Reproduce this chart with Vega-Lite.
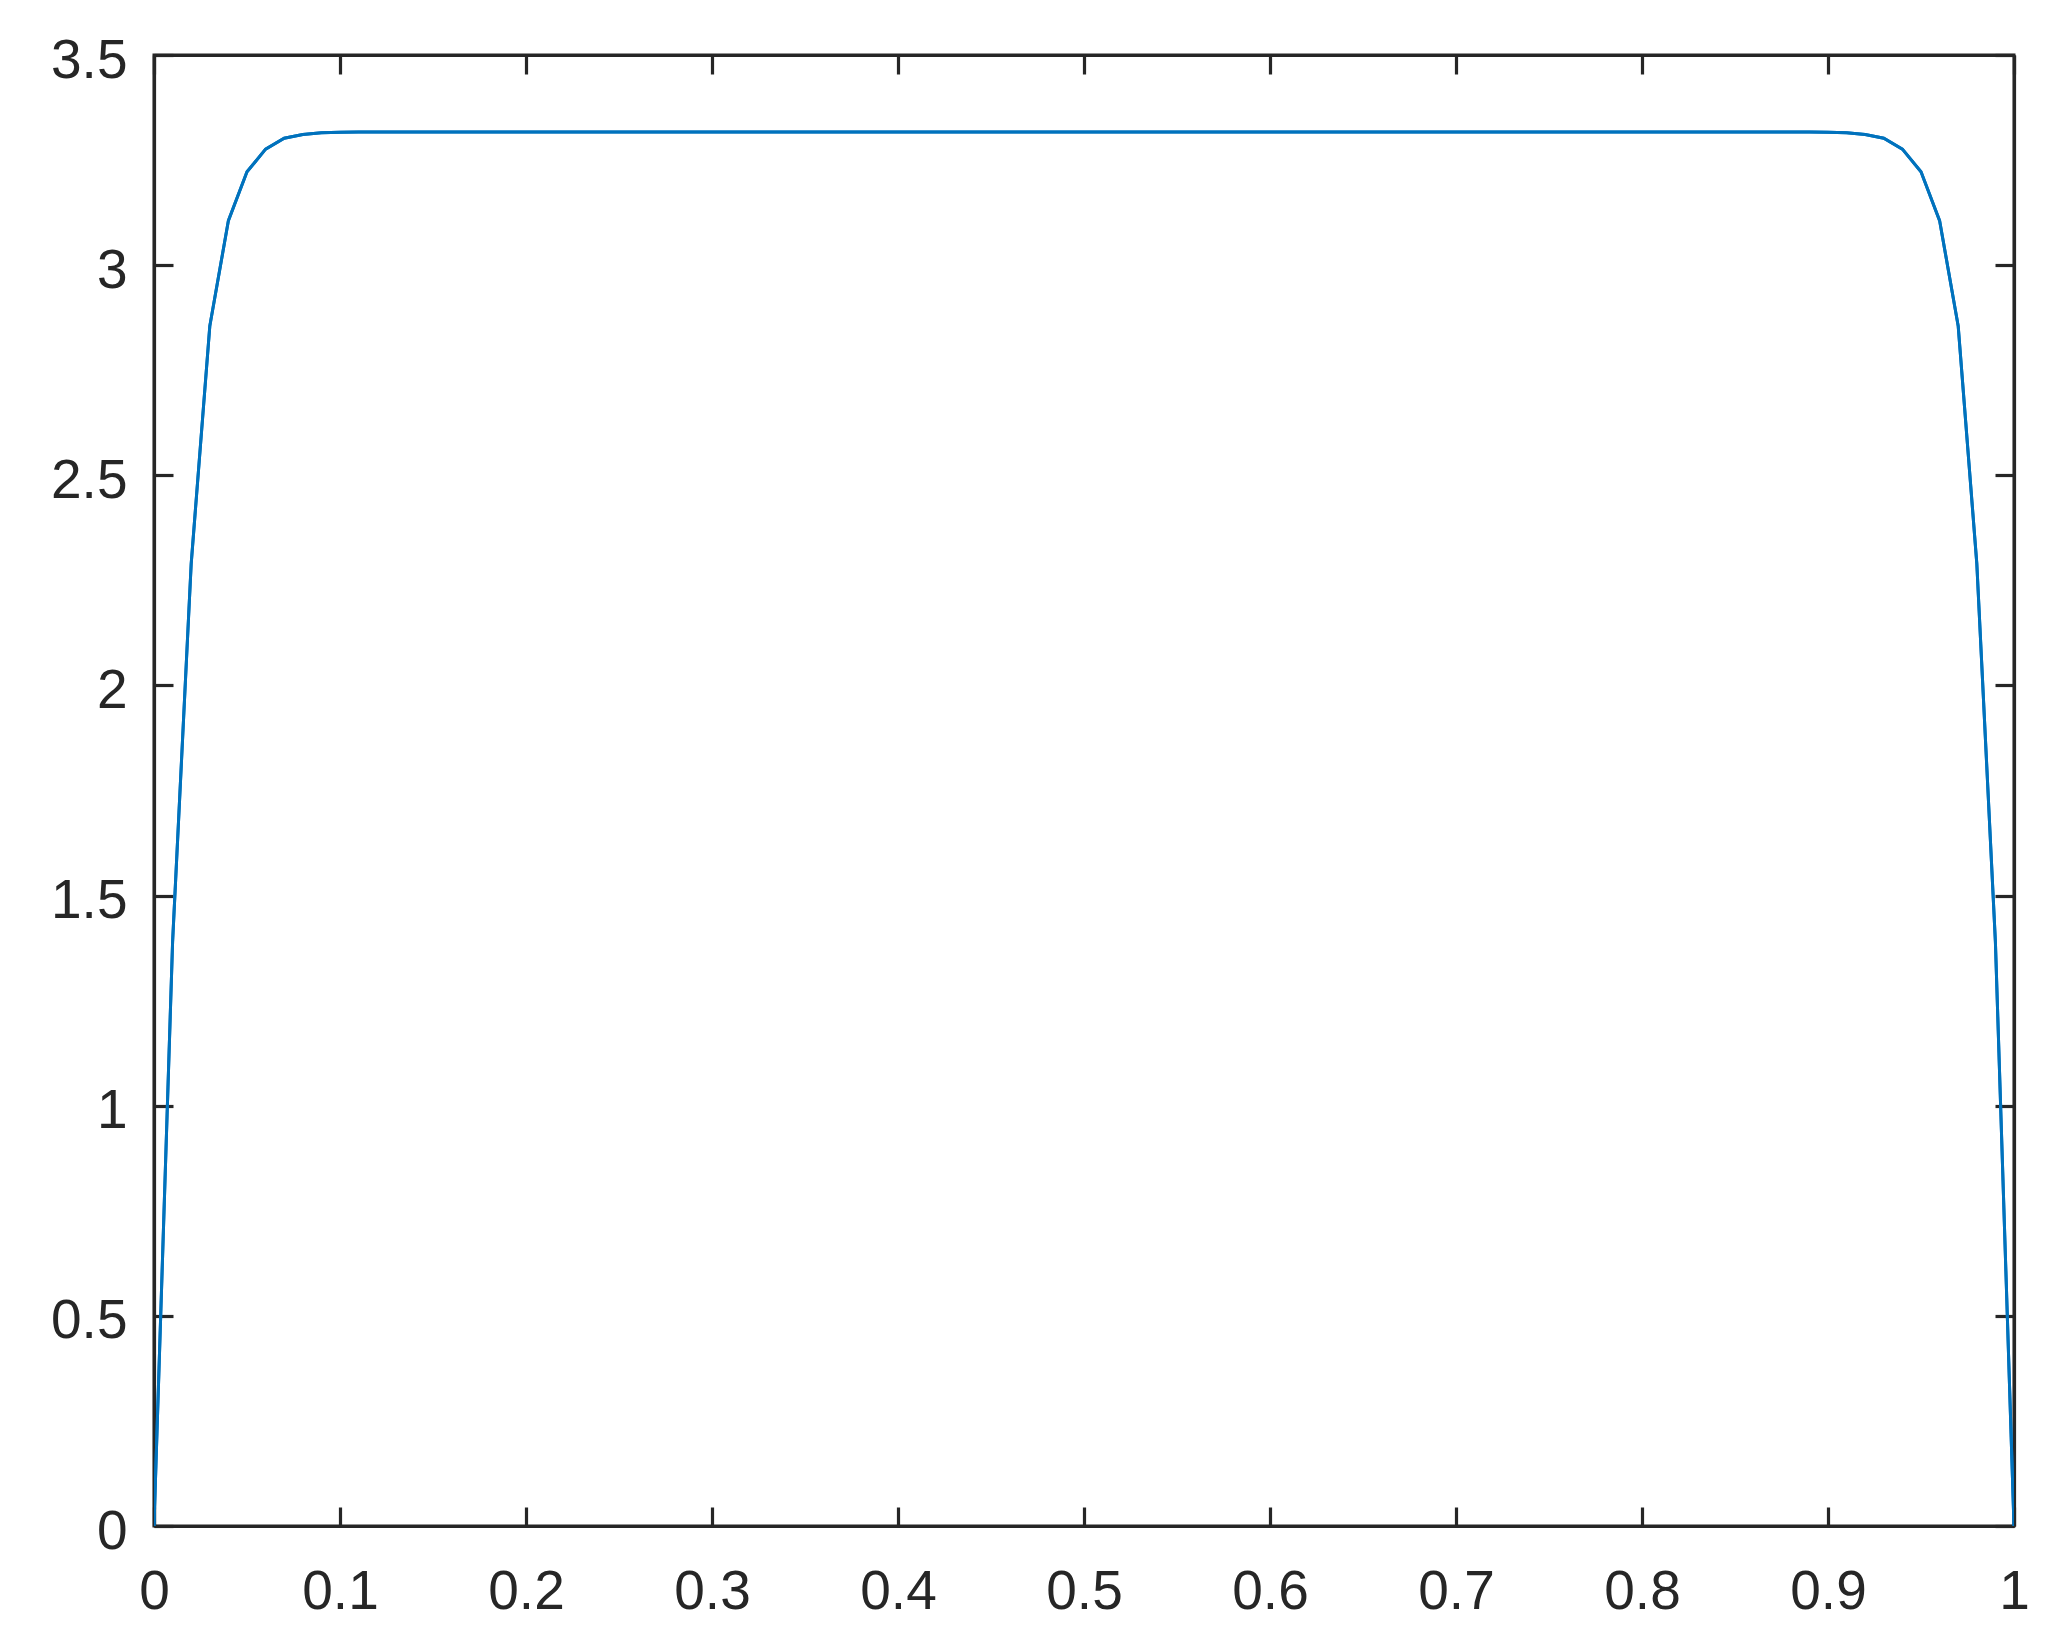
{
  "$schema": "https://vega.github.io/schema/vega-lite/v6.json",
  "width": 1860,
  "height": 1471,
  "autosize": {"type": "none"},
  "padding": {"left": 154, "top": 55, "right": 49, "bottom": 114},
  "background": "white",
  "config": {
    "view": {"stroke": "#262626", "strokeWidth": 3},
    "axis": {
      "grid": false,
      "domain": true,
      "domainColor": "#262626",
      "domainWidth": 3.2,
      "tickColor": "#262626",
      "tickWidth": 3.2,
      "tickSize": -19,
      "labelFont": "Liberation Sans",
      "labelFontSize": 55,
      "labelColor": "#262626",
      "labelFlush": false,
      "labelOverlap": false,
      "labelBound": false,
      "title": null
    }
  },
  "data": {"values": [
    {"x": 0, "y": 0},
    {"x": 0.01, "y": 1.39},
    {"x": 0.02, "y": 2.29},
    {"x": 0.03, "y": 2.855},
    {"x": 0.04, "y": 3.106},
    {"x": 0.05, "y": 3.222},
    {"x": 0.06, "y": 3.276},
    {"x": 0.07, "y": 3.302},
    {"x": 0.08, "y": 3.311},
    {"x": 0.09, "y": 3.315},
    {"x": 0.10, "y": 3.3163},
    {"x": 0.11, "y": 3.3166},
    {"x": 0.2, "y": 3.3166},
    {"x": 0.3, "y": 3.3166},
    {"x": 0.4, "y": 3.3166},
    {"x": 0.5, "y": 3.3166},
    {"x": 0.6, "y": 3.3166},
    {"x": 0.7, "y": 3.3166},
    {"x": 0.8, "y": 3.3166},
    {"x": 0.89, "y": 3.3166},
    {"x": 0.90, "y": 3.3163},
    {"x": 0.91, "y": 3.315},
    {"x": 0.92, "y": 3.311},
    {"x": 0.93, "y": 3.302},
    {"x": 0.94, "y": 3.276},
    {"x": 0.95, "y": 3.222},
    {"x": 0.96, "y": 3.106},
    {"x": 0.97, "y": 2.855},
    {"x": 0.98, "y": 2.29},
    {"x": 0.99, "y": 1.39},
    {"x": 1, "y": 0}
  ]},
  "resolve": {"axis": {"x": "independent", "y": "independent"}},
  "layer": [
    {
      "mark": {"type": "line", "color": "#0072BD", "strokeWidth": 3, "clip": true},
      "encoding": {
        "x": {"field": "x", "type": "quantitative", "scale": {"domain": [0, 1], "nice": false, "zero": false},
              "axis": {"orient": "bottom", "values": [0, 0.1, 0.2, 0.3, 0.4, 0.5, 0.6, 0.7, 0.8, 0.9, 1], "format": "~g", "labelPadding": 58}},
        "y": {"field": "y", "type": "quantitative", "scale": {"domain": [0, 3.5], "nice": false, "zero": false},
              "axis": {"orient": "left", "values": [0, 0.5, 1, 1.5, 2, 2.5, 3, 3.5], "format": "~g", "labelPadding": 46, "labelOffset": 5}}
      }
    },
    {
      "mark": {"type": "line", "color": "#0072BD", "strokeWidth": 3, "clip": true},
      "encoding": {
        "x": {"field": "x", "type": "quantitative", "scale": {"domain": [0, 1], "nice": false, "zero": false},
              "axis": {"orient": "top", "values": [0, 0.1, 0.2, 0.3, 0.4, 0.5, 0.6, 0.7, 0.8, 0.9, 1], "labels": false}},
        "y": {"field": "y", "type": "quantitative", "scale": {"domain": [0, 3.5], "nice": false, "zero": false},
              "axis": {"orient": "right", "values": [0, 0.5, 1, 1.5, 2, 2.5, 3, 3.5], "labels": false}}
      }
    }
  ]
}
